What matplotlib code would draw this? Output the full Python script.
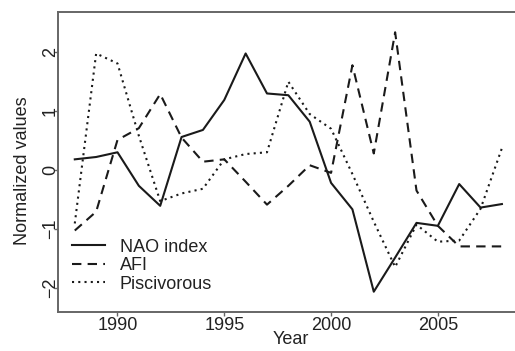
import matplotlib
matplotlib.use("Agg")
import matplotlib.pyplot as plt

years = list(range(1988, 2009))
nao = [0.18, 0.22, 0.30, -0.27, -0.61, 0.56, 0.68, 1.19, 1.98, 1.30, 1.27, 0.82, -0.22,
       -0.67, -2.07, -1.49, -0.90, -0.95, -0.24, -0.64, -0.58]
afi = [-1.03, -0.71, 0.51, 0.71, 1.29, 0.55, 0.14, 0.18, -0.20, -0.59, -0.27, 0.08, -0.05,
       1.78, 0.28, 2.34, -0.35, -0.95, -1.30, -1.30, -1.30]
pisc = [-0.91, 1.98, 1.81, 0.58, -0.53, -0.40, -0.32, 0.18, 0.27, 0.30, 1.50, 0.95, 0.70,
        -0.07, -0.88, -1.65, -0.93, -1.22, -1.20, -0.66, 0.37]
xticks = [1990, 1995, 2000, 2005]
yticks = [-2, -1, 0, 1, 2]

plt.rcParams['font.family'] = ['Liberation Sans', 'DejaVu Sans']
txt = '#222222'
fs = 13

fig = plt.figure(figsize=(5.15, 3.51), dpi=100)
ax = fig.add_axes([57.7 / 515, (351 - 311.7) / 351, 461.3 / 515, 300 / 351])

lw = 1.5
ax.plot(years, nao, color='#1a1a1a', lw=lw, label='NAO index')
ax.plot(years, afi, color='#1a1a1a', lw=lw, dashes=(4.5, 3), label='AFI')
ax.plot(years, pisc, color='#1a1a1a', lw=lw, dashes=(1, 2), label='Piscivorous')

ax.set_xlim(1987.2, 2008.8)
ax.set_ylim(-2.41, 2.69)
ax.set_xticks(xticks)
ax.set_yticks(yticks)
ax.set_yticklabels([str(v).replace('-', '\u2212') for v in yticks], rotation=90, va='center')

for s in ax.spines.values():
    s.set_color('#666666')
    s.set_linewidth(1.4)

ax.tick_params(axis='both', length=3, width=1, color='#666666', labelsize=fs, labelcolor=txt)
ax.tick_params(axis='x', pad=0.5)
ax.tick_params(axis='y', pad=-4)

ax.set_xlabel('Year', fontsize=fs, color=txt)
ax.set_ylabel('Normalized values', fontsize=fs, color=txt)
ax.xaxis.set_label_coords(0.505, -0.066)
ax.yaxis.set_label_coords(-0.058, 0.47)

ax.legend(loc='upper left', bbox_to_anchor=(0.031, 0.243), frameon=False, fontsize=fs,
          borderpad=0, borderaxespad=0, handlelength=1.8, handletextpad=0.85,
          labelspacing=0.08, labelcolor=txt)

fig.savefig('out.png', dpi=100)
